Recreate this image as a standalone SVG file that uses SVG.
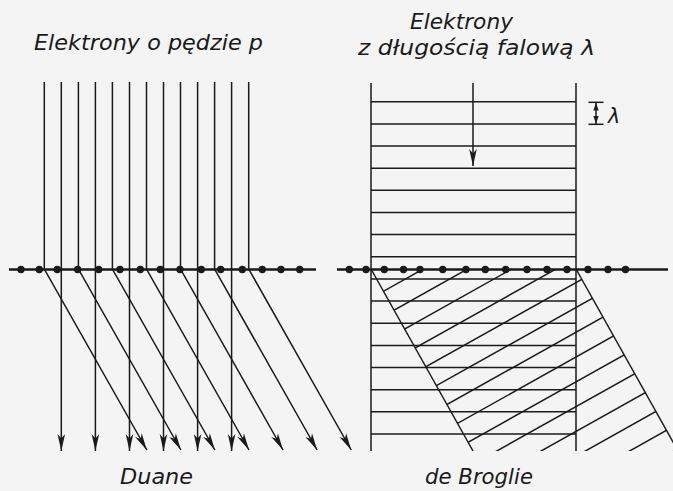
<svg xmlns="http://www.w3.org/2000/svg" width="673" height="491" viewBox="0 0 673 491">
<style>
.bg{fill:#f4f4f4}
.ln{stroke:#1a1a1a;stroke-width:1.5;fill:none}
.surf{stroke:#1a1a1a;stroke-width:2.6;fill:none}
.dot{fill:#1a1a1a}
.t{font-family:"DejaVu Sans","Liberation Sans",sans-serif;font-style:italic;font-size:20.5px;fill:#1a1a1a;font-weight:300}
</style>
<defs>
<marker id="ah" markerUnits="userSpaceOnUse" markerWidth="20" markerHeight="12" viewBox="-18 -6 20 12" refX="0" refY="0" orient="auto">
<path d="M0,0 L-17,-3.8 L-12.5,0 L-17,3.8 Z" fill="#1a1a1a"/>
</marker>
<clipPath id="hatchclip"><polygon points="371,269 576,269 678,451 473,451"/></clipPath>
</defs>
<rect class="bg" x="0" y="0" width="673" height="491"/>

<g id="labels">
<text class="t" x="34" y="50" textLength="229" lengthAdjust="spacingAndGlyphs">Elektrony o pędzie p</text>
<text class="t" x="410" y="29" textLength="103" lengthAdjust="spacingAndGlyphs">Elektrony</text>
<text class="t" x="358" y="54.5" textLength="237" lengthAdjust="spacingAndGlyphs">z długością falową λ</text>
<text class="t" x="120" y="484" textLength="73" lengthAdjust="spacingAndGlyphs">Duane</text>
<text class="t" x="425" y="484" textLength="108" lengthAdjust="spacingAndGlyphs">de Broglie</text>
</g>

<g id="duane-beams">
<polyline class="ln" marker-end="url(#ah)" points="44.3,82 44.3,269 146.8,450"/>
<polyline class="ln" marker-end="url(#ah)" points="78.4,82 78.4,269 180.9,450"/>
<polyline class="ln" marker-end="url(#ah)" points="112.4,82 112.4,269 214.9,450"/>
<polyline class="ln" marker-end="url(#ah)" points="146.5,82 146.5,269 249,450"/>
<polyline class="ln" marker-end="url(#ah)" points="180.5,82 180.5,269 283,450"/>
<polyline class="ln" marker-end="url(#ah)" points="214.6,82 214.6,269 317.1,450"/>
<polyline class="ln" marker-end="url(#ah)" points="248.7,82 248.7,269 351.2,450"/>
<line class="ln" marker-end="url(#ah)" x1="61.3" y1="82" x2="61.3" y2="451"/>
<line class="ln" marker-end="url(#ah)" x1="95.4" y1="82" x2="95.4" y2="451"/>
<line class="ln" marker-end="url(#ah)" x1="129.5" y1="82" x2="129.5" y2="451"/>
<line class="ln" marker-end="url(#ah)" x1="163.5" y1="82" x2="163.5" y2="451"/>
<line class="ln" marker-end="url(#ah)" x1="197.6" y1="82" x2="197.6" y2="451"/>
<line class="ln" marker-end="url(#ah)" x1="231.6" y1="82" x2="231.6" y2="451"/>
</g>

<g id="duane-crystal">
<line class="surf" x1="9" y1="269.5" x2="316" y2="269.5"/>
<g class="dot">
<circle cx="21" cy="269.5" r="3.7"/><circle cx="39.3" cy="269.5" r="3.7"/><circle cx="57.3" cy="269.5" r="3.7"/><circle cx="77.7" cy="269.5" r="3.7"/><circle cx="98.7" cy="269.5" r="3.7"/><circle cx="120" cy="269.5" r="3.7"/><circle cx="140.3" cy="269.5" r="3.7"/><circle cx="160.3" cy="269.5" r="3.7"/><circle cx="180" cy="269.5" r="3.7"/><circle cx="201.3" cy="269.5" r="3.7"/><circle cx="220.7" cy="269.5" r="3.7"/><circle cx="242.3" cy="269.5" r="3.7"/><circle cx="262.3" cy="269.5" r="3.7"/><circle cx="281" cy="269.5" r="3.7"/><circle cx="299.7" cy="269.5" r="3.7"/>
</g>
</g>

<g id="debroglie-wave">
<line class="ln" x1="371" y1="83" x2="371" y2="451"/>
<line class="ln" x1="576" y1="83" x2="576" y2="451"/>
<line class="ln" x1="371" y1="101.7" x2="576" y2="101.7"/>
<line class="ln" x1="371" y1="123.9" x2="576" y2="123.9"/>
<line class="ln" x1="371" y1="146" x2="576" y2="146"/>
<line class="ln" x1="371" y1="168.2" x2="576" y2="168.2"/>
<line class="ln" x1="371" y1="190.3" x2="576" y2="190.3"/>
<line class="ln" x1="371" y1="212.5" x2="576" y2="212.5"/>
<line class="ln" x1="371" y1="234.6" x2="576" y2="234.6"/>
<line class="ln" x1="371" y1="256.8" x2="576" y2="256.8"/>
<line class="ln" x1="371" y1="278.9" x2="576" y2="278.9"/>
<line class="ln" x1="371" y1="301.1" x2="576" y2="301.1"/>
<line class="ln" x1="371" y1="323.2" x2="576" y2="323.2"/>
<line class="ln" x1="371" y1="345.4" x2="576" y2="345.4"/>
<line class="ln" x1="371" y1="367.5" x2="576" y2="367.5"/>
<line class="ln" x1="371" y1="389.7" x2="576" y2="389.7"/>
<line class="ln" x1="371" y1="411.8" x2="576" y2="411.8"/>
<line class="ln" x1="371" y1="434" x2="576" y2="434"/>
<line class="ln" marker-end="url(#ah)" x1="473" y1="83" x2="473" y2="166"/>
</g>

<g id="lambda-marker">
<line class="ln" x1="596" y1="102.3" x2="596" y2="124.3"/>
<line class="ln" x1="588.5" y1="102.3" x2="603.5" y2="102.3"/>
<line class="ln" x1="588.5" y1="124.3" x2="603.5" y2="124.3"/>
<path d="M596,103 L593.3,110.5 L598.7,110.5 Z M596,123.6 L593.3,116 L598.7,116 Z" fill="#1a1a1a"/>
<text class="t" x="608" y="123" font-size="21">λ</text>
</g>

<g id="debroglie-diffracted">
<line class="ln" x1="371" y1="269" x2="473" y2="451"/>
<line class="ln" x1="576" y1="269" x2="678" y2="451"/>
<g clip-path="url(#hatchclip)">
<line class="ln" x1="360" y1="304.4" x2="690" y2="119.6"/>
<line class="ln" x1="360" y1="329.2" x2="690" y2="144.4"/>
<line class="ln" x1="360" y1="354" x2="690" y2="169.2"/>
<line class="ln" x1="360" y1="378.8" x2="690" y2="194"/>
<line class="ln" x1="360" y1="403.6" x2="690" y2="218.8"/>
<line class="ln" x1="360" y1="428.4" x2="690" y2="243.6"/>
<line class="ln" x1="360" y1="453.2" x2="690" y2="268.4"/>
<line class="ln" x1="360" y1="478" x2="690" y2="293.2"/>
<line class="ln" x1="360" y1="502.8" x2="690" y2="318"/>
<line class="ln" x1="360" y1="527.6" x2="690" y2="342.8"/>
<line class="ln" x1="360" y1="552.4" x2="690" y2="367.6"/>
<line class="ln" x1="360" y1="577.2" x2="690" y2="392.4"/>
<line class="ln" x1="360" y1="602" x2="690" y2="417.2"/>
<line class="ln" x1="360" y1="626.8" x2="690" y2="442"/>
</g>
</g>

<g id="debroglie-crystal">
<line class="surf" x1="337" y1="269.5" x2="668" y2="269.5"/>
<g class="dot">
<circle cx="349.3" cy="269.5" r="3.7"/><circle cx="366" cy="269.5" r="3.7"/><circle cx="384.3" cy="269.5" r="3.7"/><circle cx="403.5" cy="269.5" r="3.7"/><circle cx="420" cy="269.5" r="3.7"/><circle cx="442.7" cy="269.5" r="3.7"/><circle cx="466" cy="269.5" r="3.7"/><circle cx="485.3" cy="269.5" r="3.7"/><circle cx="505.7" cy="269.5" r="3.7"/><circle cx="527" cy="269.5" r="3.7"/><circle cx="547" cy="269.5" r="3.7"/><circle cx="567" cy="269.5" r="3.7"/><circle cx="588" cy="269.5" r="3.7"/><circle cx="608" cy="269.5" r="3.7"/><circle cx="625.5" cy="269.5" r="3.7"/>
</g>
</g>
</svg>
